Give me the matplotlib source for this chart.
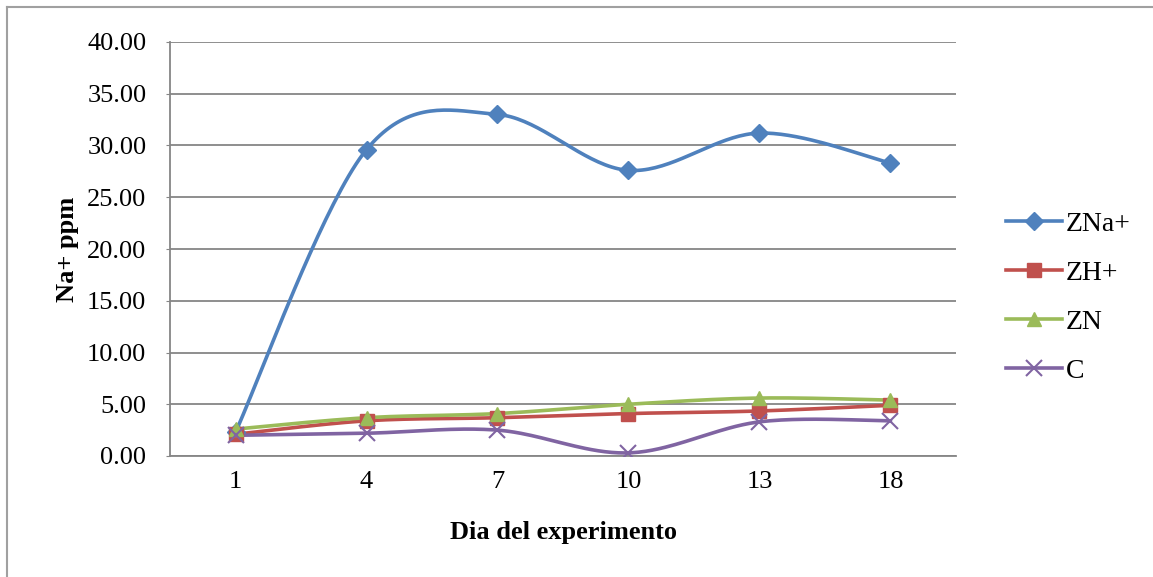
import numpy as np
import matplotlib
matplotlib.use("Agg")
import matplotlib.pyplot as plt
from matplotlib.lines import Line2D

plt.rcParams['font.family'] = ['Liberation Serif', 'DejaVu Serif']

categories = ["1", "4", "7", "10", "13", "18"]
zna = [2.3, 29.6, 33.0, 27.6, 31.2, 28.3]
zh = [2.1, 3.4, 3.7, 4.1, 4.35, 4.9]
zn = [2.6, 3.7, 4.1, 5.0, 5.6, 5.4]
c = [2.0, 2.2, 2.5, 0.3, 3.3, 3.4]
series_names = ["ZNa+", "ZH+", "ZN", "C"]
colors = ["#4F81BD", "#C0504D", "#9BBB59", "#8064A2"]
markers = ["D", "s", "^", "x"]


def smooth(x, y, n=40):
    x = np.asarray(x, float); y = np.asarray(y, float)
    px, py = [], []
    m = len(x)
    for i in range(m - 1):
        p0 = (x[max(i - 1, 0)], y[max(i - 1, 0)])
        p1 = (x[i], y[i]); p2 = (x[i + 1], y[i + 1])
        p3 = (x[min(i + 2, m - 1)], y[min(i + 2, m - 1)])
        c1 = (p1[0] + (p2[0] - p0[0]) / 6, p1[1] + (p2[1] - p0[1]) / 6)
        c2 = (p2[0] - (p3[0] - p1[0]) / 6, p2[1] - (p3[1] - p1[1]) / 6)
        t = np.linspace(0, 1, n)
        bx = (1-t)**3*p1[0] + 3*(1-t)**2*t*c1[0] + 3*(1-t)*t**2*c2[0] + t**3*p2[0]
        by = (1-t)**3*p1[1] + 3*(1-t)**2*t*c1[1] + 3*(1-t)*t**2*c2[1] + t**3*p2[1]
        px.extend(bx); py.extend(by)
    return np.array(px), np.array(py)


fig = plt.figure(figsize=(11.53, 5.77), dpi=100)
ax = fig.add_axes([170/1153, 1-456/577, (956-170)/1153, (456-42)/577])

x = np.arange(len(categories))
handles = []
for vals, name, col, mk in zip([zna, zh, zn, c], series_names, colors, markers):
    sx, sy = smooth(x, vals)
    ax.plot(sx, sy, color=col, lw=2.6, solid_capstyle='round', zorder=3)
    ms = 9 if mk == 'D' else (10 if mk in ('s', '^') else 11)
    if mk == 'x':
        ax.plot(x, vals, linestyle='none', marker=mk, color=col, ms=ms, mew=1.5, zorder=4)
    else:
        ax.plot(x, vals, linestyle='none', marker=mk, color=col, ms=ms, mec=col, zorder=4)
    handles.append(Line2D([0], [0], color=col, lw=2.6, marker=mk, ms=ms,
                          mew=1.5 if mk == 'x' else 1.0, mec=col, label=name))

ax.set_xlim(-0.5, len(categories) - 0.5)
ax.set_ylim(0, 40)
ax.set_yticks(np.arange(0, 41, 5))
ax.set_yticklabels([f"{v:.2f}" for v in np.arange(0, 41, 5)], fontsize=19)
ax.set_xticks(x)
ax.set_xticklabels(categories, fontsize=19)
ax.tick_params(axis='x', length=0, pad=11)
ax.tick_params(axis='y', length=3, color='#868686', pad=14)
ax.grid(axis='y', color='#868686', lw=1.3)
ax.set_axisbelow(True)
for s in ['top', 'right']:
    ax.spines[s].set_visible(False)
ax.spines['left'].set_color('#868686')
ax.spines['bottom'].set_color('#868686')
ax.spines['left'].set_linewidth(1.3)
ax.spines['bottom'].set_linewidth(1.3)

ax.set_xlabel("Dia del experimento", fontsize=19, fontweight='bold', labelpad=20)
ax.set_ylabel("Na+ ppm", fontsize=19, fontweight='bold', labelpad=6)

fig.legend(handles=handles, loc='upper left', bbox_to_anchor=(995/1153, 1-200/577),
           frameon=False, fontsize=20, handlelength=2.0, labelspacing=0.85,
           handletextpad=0.15, borderaxespad=0)

fig.add_artist(Line2D([7/1153, 7/1153], [0, 1-7/577], transform=fig.transFigure,
                      color='#A0A0A0', lw=1.5))
fig.add_artist(Line2D([7/1153, 1], [1-7/577, 1-7/577], transform=fig.transFigure,
                      color='#A0A0A0', lw=1.5))

fig.savefig("out.png", dpi=100)
